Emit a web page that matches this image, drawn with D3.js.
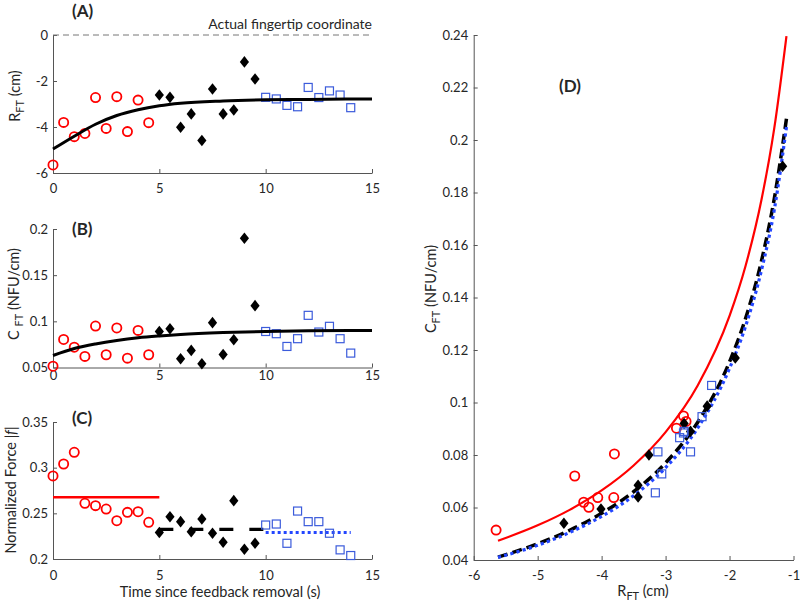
<!DOCTYPE html>
<html>
<head>
<meta charset="utf-8">
<script src="https://cdn.jsdelivr.net/npm/d3@7"></script>
<style>
  body { margin: 0; background: #fff; }
  text { font-family: Lato, "Open Sans", sans-serif; fill: #262626; }
</style>
</head>
<body>
<script>
// time points of the three phases
var tRed = [0, 0.5, 1, 1.5, 2, 2.5, 3, 3.5, 4, 4.5];
var tBlack = [5, 5.5, 6, 6.5, 7, 7.5, 8, 8.5, 9, 9.5];
var tBlue = [10, 10.5, 11, 11.5, 12, 12.5, 13, 13.5, 14];

// (A) R_FT (cm)
var rftRed = [-5.65, -3.80, -4.42, -4.28, -2.72, -4.06, -2.68, -4.20, -2.83, -3.81];
var rftBlack = [-2.61, -2.71, -4.01, -3.43, -4.59, -2.35, -3.43, -3.26, -1.17, -1.91];
var rftBlue = [-2.71, -2.78, -3.06, -3.12, -2.28, -2.72, -2.43, -2.61, -3.16];

// (B) C_FT (NFU/cm)
var cftRed = [0.0514, 0.0804, 0.072, 0.062, 0.0949, 0.0638, 0.0928, 0.0601, 0.0902, 0.0638];
var cftBlack = [0.089, 0.092, 0.0594, 0.0685, 0.054, 0.0986, 0.064, 0.080, 0.190, 0.117];
var cftBlue = [0.089, 0.0866, 0.0728, 0.0812, 0.1065, 0.0884, 0.0946, 0.0812, 0.0656];

// (C) normalized force
var forceRed = [0.291, 0.304, 0.3168, 0.261, 0.2584, 0.2547, 0.2419, 0.2511, 0.2518, 0.2402];
var forceBlack = [0.229, 0.2463, 0.2409, 0.2299, 0.2438, 0.2282, 0.2183, 0.2639, 0.2106, 0.2172];
var forceBlue = [0.2372, 0.2383, 0.2172, 0.2525, 0.2409, 0.2409, 0.2282, 0.21, 0.2038];

var fitT = [0, 1, 2, 3, 4, 5, 6, 8, 10, 12, 15];
var fitRft = [-4.96, -4.40, -3.88, -3.50, -3.25, -3.08, -2.97, -2.87, -2.82, -2.80, -2.78];
var fitCft = [0.063, 0.0705, 0.0755, 0.0793, 0.0822, 0.0842, 0.0858, 0.0878, 0.0890, 0.0897, 0.0902];

// mean force levels in panel C
var levelRed = { t: [0, 5], f: 0.2675 };
var levelBlack = { t: [5, 10], f: 0.2325 };
var levelBlue = { t: [10, 14], f: 0.229 };

// fitted curves of panel D
var curveR = [-5.62, -5.0, -4.5, -4.0, -3.5, -3.0, -2.5, -2.0, -1.75, -1.5, -1.3, -1.11];
var curveRed = [0.0473, 0.0532, 0.0591, 0.0665, 0.0760, 0.0887, 0.1064, 0.1330, 0.152, 0.1773, 0.2046, 0.2396];
var curveBlack = [0.0411, 0.0462, 0.0513, 0.0578, 0.066, 0.077, 0.0924, 0.1155, 0.132, 0.154, 0.1777, 0.2081];
var curveBlue = [0.0410, 0.0456, 0.0505, 0.0566, 0.0645, 0.0752, 0.0902, 0.1130, 0.1290, 0.1505, 0.1735, 0.2050];

// tick values
var ticksTime = [0, 5, 10, 15];
var ticksRft = [-6, -4, -2, 0];
var ticksCft = [0.05, 0.1, 0.15, 0.2];
var ticksForce = [0.2, 0.25, 0.3, 0.35];
var ticksDX = [-6, -5, -4, -3, -2, -1];
var ticksDY = [0.04, 0.06, 0.08, 0.1, 0.12, 0.14, 0.16, 0.18, 0.2, 0.22, 0.24];

var RED = "#ff0000", BLUE_M = "#3b5bdb", BLUE_L = "#2346ff", AXIS = "#555";

var svg = d3.select("body").append("svg").attr("width", 800).attr("height", 604);

var zip = function (a, b) { return a.map(function (v, i) { return [v, b[i]]; }); };
var fmt = function (d) { return String(+d.toFixed(2)); };

var xT = d3.scaleLinear().domain([0, 15]).range([53, 372]);
var yA = d3.scaleLinear().domain([-6, 0]).range([173, 35]);
var yB = d3.scaleLinear().domain([0.05, 0.2]).range([367.5, 229]);
var yC = d3.scaleLinear().domain([0.2, 0.35]).range([559, 422]);
var xD = d3.scaleLinear().domain([-6, -1]).range([473.7, 793.5]);
var yD = d3.scaleLinear().domain([0.04, 0.24]).range([560, 35]);

function axes(x, y, xt, yt, xpad, ypad) {
  var gx = svg.append("g")
    .attr("transform", "translate(0," + y.range()[0] + ")")
    .call(d3.axisBottom(x).tickValues(xt).tickFormat(fmt).tickSizeInner(-4).tickSizeOuter(0).tickPadding(xpad));
  var gy = svg.append("g")
    .attr("transform", "translate(" + x.range()[0] + ",0)")
    .call(d3.axisLeft(y).tickValues(yt).tickFormat(fmt).tickSizeInner(-4).tickSizeOuter(0).tickPadding(ypad));
  [gx, gy].forEach(function (g) {
    g.selectAll("path, line").attr("stroke", AXIS);
    g.selectAll("text").style("font-size", "13px").attr("fill", "#262626")
      .style("font-family", "Lato, 'Open Sans', sans-serif");
  });
}

function circles(g, pts, x, y) {
  g.selectAll(null).data(pts).enter().append("circle")
    .attr("cx", function (d) { return x(d[0]); })
    .attr("cy", function (d) { return y(d[1]); })
    .attr("r", 4.6).attr("fill", "none").attr("stroke", RED).attr("stroke-width", 1.8);
}
function diamonds(g, pts, x, y) {
  g.selectAll(null).data(pts).enter().append("path")
    .attr("d", "M0,-5.8L4.6,0L0,5.8L-4.6,0Z")
    .attr("transform", function (d) { return "translate(" + x(d[0]) + "," + y(d[1]) + ")"; })
    .attr("fill", "#000");
}
function squares(g, pts, x, y) {
  g.selectAll(null).data(pts).enter().append("rect")
    .attr("x", function (d) { return x(d[0]) - 4; })
    .attr("y", function (d) { return y(d[1]) - 4; })
    .attr("width", 8).attr("height", 8)
    .attr("fill", "none").attr("stroke", BLUE_M).attr("stroke-width", 1.2);
}
function line(x, y, pts, color, w, dash) {
  var p = svg.append("path").datum(pts)
    .attr("d", d3.line().x(function (d) { return x(d[0]); }).y(function (d) { return y(d[1]); }).curve(d3.curveMonotoneX))
    .attr("fill", "none").attr("stroke", color).attr("stroke-width", w);
  if (dash) p.attr("stroke-dasharray", dash);
  return p;
}
function label(x, y, txt, size, bold) {
  return svg.append("text").attr("x", x).attr("y", y)
    .style("font-size", size + "px").style("font-weight", bold ? "bold" : "normal").text(txt);
}

// ---------- (A)
axes(xT, yA, ticksTime, ticksRft, 11, 5);
svg.append("line").attr("x1", xT(0)).attr("x2", xT(15)).attr("y1", yA(0)).attr("y2", yA(0))
  .attr("stroke", "#777").attr("stroke-dasharray", "6,4");
label(372, 29, "Actual fingertip coordinate", 14).attr("text-anchor", "end");
var gA = svg.append("g");
circles(gA, zip(tRed, rftRed), xT, yA);
diamonds(gA, zip(tBlack, rftBlack), xT, yA);
squares(gA, zip(tBlue, rftBlue), xT, yA);
line(xT, yA, zip(fitT, fitRft), "#000", 3);
label(72, 17, "(A)", 17, true);

// ---------- (B)
axes(xT, yB, ticksTime, ticksCft, 3, 5);
var gB = svg.append("g");
circles(gB, zip(tRed, cftRed), xT, yB);
diamonds(gB, zip(tBlack, cftBlack), xT, yB);
squares(gB, zip(tBlue, cftBlue), xT, yB);
line(xT, yB, zip(fitT, fitCft), "#000", 3);
label(72, 235, "(B)", 17, true);

// ---------- (C)
axes(xT, yC, ticksTime, ticksForce, 12, 5);
line(xT, yC, levelRed.t.map(function (t) { return [t, levelRed.f]; }), RED, 2.5);
line(xT, yC, levelBlack.t.map(function (t) { return [t, levelBlack.f]; }), "#000", 3.2, "14,16");
line(xT, yC, levelBlue.t.map(function (t) { return [t, levelBlue.f]; }), BLUE_L, 3.2, "3,3");
var gC = svg.append("g");
circles(gC, zip(tRed, forceRed), xT, yC);
diamonds(gC, zip(tBlack, forceBlack), xT, yC);
squares(gC, zip(tBlue, forceBlue), xT, yC);
label(72, 424, "(C)", 17, true);
label(220, 597, "Time since feedback removal (s)", 14.5).attr("text-anchor", "middle");

// y labels of A, B, C
var la = svg.append("text").attr("transform", "translate(20,96) rotate(-90)")
  .attr("text-anchor", "middle").style("font-size", "14.5px");
la.append("tspan").text("R");
la.append("tspan").attr("dy", 4).style("font-size", "11px").text("FT");
la.append("tspan").attr("dy", -4).text(" (cm)");

var lb = svg.append("text").attr("transform", "translate(19,294) rotate(-90)")
  .attr("text-anchor", "middle").style("font-size", "14.5px");
lb.append("tspan").text("C ");
lb.append("tspan").attr("dy", 4).style("font-size", "11px").text("FT");
lb.append("tspan").attr("dy", -4).text(" (NFU/cm)");

var lc = svg.append("text").attr("transform", "translate(16,490) rotate(-90)")
  .attr("text-anchor", "middle").style("font-size", "14.5px");
lc.append("tspan").text("Normalized Force |");
lc.append("tspan").style("font-style", "italic").text("f");
lc.append("tspan").text("|");

// ---------- (D)
axes(xD, yD, ticksDX, ticksDY, 11, 5.5);
line(xD, yD, zip(curveR, curveRed), RED, 2.2);
line(xD, yD, zip(curveR, curveBlack), "#000", 3.5, "10,5");
line(xD, yD, zip(curveR, curveBlue), BLUE_L, 3.2, "3.2,3.2");
var gD = svg.append("g");
circles(gD, zip(rftRed, cftRed), xD, yD);
diamonds(gD, zip(rftBlack, cftBlack), xD, yD);
squares(gD, zip(rftBlue, cftBlue), xD, yD);
label(559, 92, "(D)", 17, true);

var ld = svg.append("text").attr("transform", "translate(436,289) rotate(-90)")
  .attr("text-anchor", "middle").style("font-size", "14.5px");
ld.append("tspan").text("C");
ld.append("tspan").attr("dy", 4).style("font-size", "11px").text("FT");
ld.append("tspan").attr("dy", -4).text("  (NFU/cm)");

var lx = svg.append("text").attr("x", 643).attr("y", 596)
  .attr("text-anchor", "middle").style("font-size", "14.5px");
lx.append("tspan").text("R");
lx.append("tspan").attr("dy", 4).style("font-size", "11px").text("FT");
lx.append("tspan").attr("dy", -4).text(" (cm)");
</script>
</body>
</html>
